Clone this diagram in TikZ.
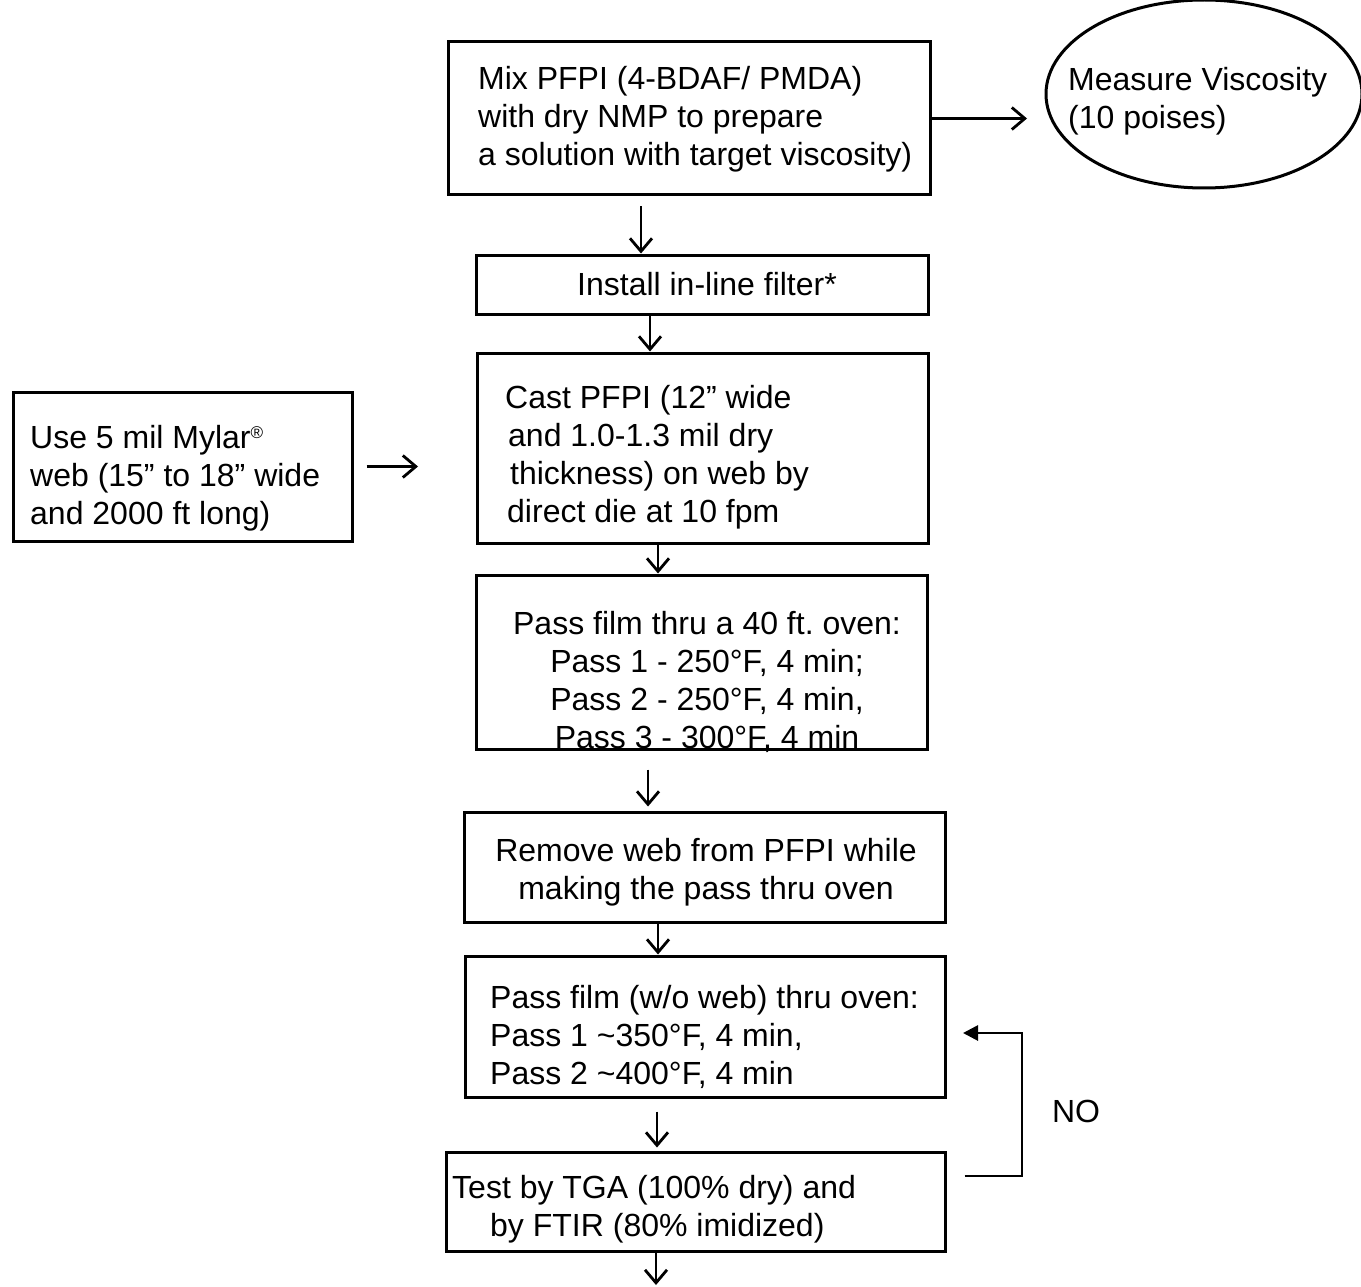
\documentclass[tikz,border=0pt]{standalone}
\usepackage{fontspec}
\setmainfont{Liberation Sans}
\usetikzlibrary{arrows.meta,shapes.geometric}
\frenchspacing
\begin{document}
\begin{tikzpicture}[x=1pt,y=-1pt,
  box/.style={draw, line width=3pt, inner sep=0pt},
  txt/.style={inner sep=0pt, font=\fontsize{32}{38}\selectfont\frenchspacing},
  arr/.style={line width=2.8pt, -{Straight Barb[length=13pt,width=22pt]}},
  fbarr/.style={line width=2.8pt, -{Triangle[length=15pt,width=15pt]}}]
\useasboundingbox (0,0) rectangle (1361,1287);
\fill[white] (0,0) rectangle (1361,1287);

% boxes
\node[box, minimum width=482pt, minimum height=153pt] (b1) at (689,118.5) {};
\node[box, ellipse, minimum width=316pt, minimum height=188pt] (vis) at (1204,94) {};
\node[box, minimum width=452pt, minimum height=59pt] (b2) at (702,284.5) {};
\node[box, minimum width=451pt, minimum height=190pt] (b3) at (702.5,448) {};
\node[box, minimum width=339pt, minimum height=149pt] (bm) at (182.5,466.5) {};
\node[box, minimum width=451pt, minimum height=174pt] (b4) at (701.5,662) {};
\node[box, minimum width=481pt, minimum height=110pt] (b5) at (704.5,867) {};
\node[box, minimum width=480pt, minimum height=141pt] (b6) at (705,1026.5) {};
\node[box, minimum width=499pt, minimum height=99pt] (b7) at (695.5,1201.5) {};

% texts
\node[txt, anchor=base west] (t1) at (478,90) {\begin{tabular}[t]{@{}l@{}}Mix PFPI (4-BDAF/ PMDA)\\with dry NMP to prepare\\a solution with target viscosity)\end{tabular}};
\node[txt, anchor=base west] (tv) at (1068,91) {\begin{tabular}[t]{@{}l@{}}Measure Viscosity\\(10 poises)\end{tabular}};
\node[txt, anchor=base] (t2) at (707,295) {Install in-line filter*};
\node[txt, anchor=base west] (t3) at (505,408) {\begin{tabular}[t]{@{}l@{}}Cast PFPI (12” wide\\\hspace*{3pt}and 1.0-1.3 mil dry\\\hspace*{5pt}thickness) on web by\\\hspace*{2pt}direct die at 10 fpm\end{tabular}};
\node[txt, anchor=base west] (tm) at (30,448) {\begin{tabular}[t]{@{}l@{}}Use 5 mil Mylar\raisebox{10pt}{\fontsize{17}{17}\selectfont ®}\\web (15” to 18” wide\\and 2000 ft long)\end{tabular}};
\node[txt, anchor=base] (t4) at (707,634) {\begin{tabular}[t]{@{}c@{}}Pass film thru a 40 ft. oven:\\Pass 1 - 250°F, 4 min;\\Pass 2 - 250°F, 4 min,\\Pass 3 - 300°F, 4 min\end{tabular}};
\node[txt, anchor=base] (t5) at (706,861) {\begin{tabular}[t]{@{}c@{}}Remove web from PFPI while\\making the pass thru oven\end{tabular}};
\node[txt, anchor=base west] (t6) at (490,1008) {\begin{tabular}[t]{@{}l@{}}Pass film (w/o web) thru oven:\\Pass 1 \textasciitilde350°F, 4 min,\\Pass 2 \textasciitilde400°F, 4 min\end{tabular}};
\node[txt, anchor=base west] (t7) at (452,1198) {\begin{tabular}[t]{@{}l@{}}Test by TGA (100\% dry) and\\\hspace*{38pt}by FTIR (80\% imidized)\end{tabular}};
\node[txt, anchor=base] (no) at (1076,1122) {NO};

% free ends
\coordinate (vtip) at (1027,118.5);
\coordinate (mtip) at (418,466.5);
\coordinate (fbtop) at (1022,1033);
\coordinate (fbtip) at (963,1033);
\coordinate (endc) at (656,1285);

% connectors
\draw[arr] (b1.east) -- (vtip);
\draw[arr] ([xshift=-48pt,yshift=-10pt]b1.south) -- ([xshift=-61pt]b2.north);
\draw[arr] ([xshift=-52pt]b2.south) -- ([xshift=-52.5pt]b3.north);
\draw[arr] ([xshift=13pt]bm.east) -- (mtip);
\draw[arr] ([xshift=-44.5pt]b3.south) -- ([xshift=-43.5pt]b4.north);
\draw[arr] ([xshift=-53.5pt,yshift=-19pt]b4.south) -- ([xshift=-56.5pt,yshift=4pt]b5.north);
\draw[arr] ([xshift=-46.5pt]b5.south) -- ([xshift=-47pt]b6.north);
\draw[arr] ([xshift=-48pt,yshift=-13pt]b6.south) -- ([xshift=-38.5pt,yshift=3pt]b7.north);
\draw[arr] ([xshift=-39.5pt]b7.south) -- (endc);
\draw[fbarr] ([xshift=18pt,yshift=25.5pt]b7.east) -| (fbtop) -- (fbtip);
\end{tikzpicture}
\end{document}
